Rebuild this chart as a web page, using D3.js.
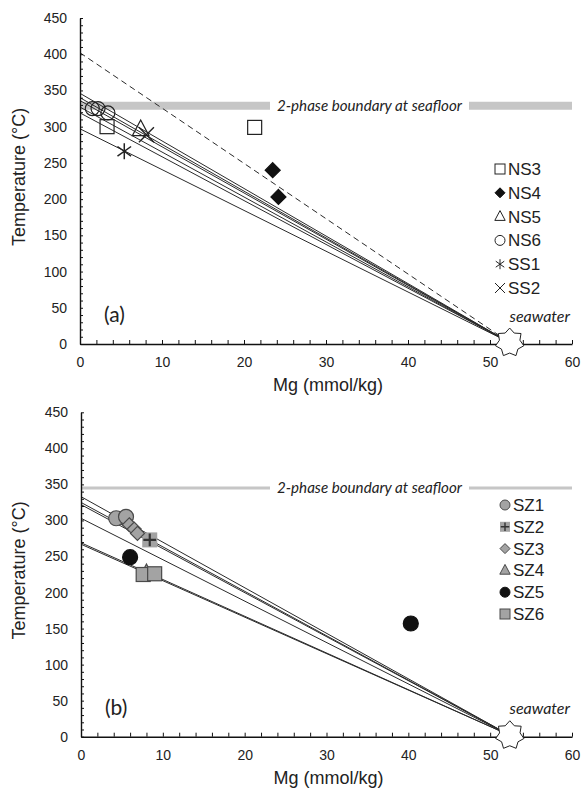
<!DOCTYPE html>
<html><head><meta charset="utf-8">
<script src="https://cdn.jsdelivr.net/npm/d3@7"></script>
<style>
html,body{margin:0;padding:0;background:#fff;}
svg{display:block;}
</style></head><body>
<svg id="chart" width="588" height="793"></svg>
<script>
// ---- shared axis values ----
const xTickLabels = [0, 10, 20, 30, 40, 50, 60];
const yTickLabels = [0, 50, 100, 150, 200, 250, 300, 350, 400, 450];
const seawaterMg = 52.4;
const seawaterT = 2;

// ---- panel (a): vent fluids NS / SS ----
const linesA = [346, 340, 336, 327, 319, 297];   // T at Mg = 0
const dashedA = [402];
const twoPhaseA = 329;
const ns3 = [[3.3, 300], [21.3, 299]];
const ns4 = [[23.5, 240], [24.2, 203]];
const ns5 = [[7.4, 296]];
const ns6 = [[1.5, 325], [2.2, 325], [3.4, 319]];
const ss1 = [[5.4, 266]];
const ss2 = [[8.1, 289]];
const legendA = ["NS3", "NS4", "NS5", "NS6", "SS1", "SS2"];

// ---- panel (b): vent fluids SZ ----
const linesB = [333, 325, 322, 303, 269, 267];
const twoPhaseB = 345;
const sz1 = [[4.3, 303], [5.5, 305]];
const sz2 = [[8.4, 273]];
const sz3 = [[5.9, 294], [6.5, 288], [6.9, 282]];
const sz4 = [[8.0, 228]];
const sz5 = [[6.0, 249], [40.3, 157]];
const sz6 = [[7.6, 225], [9.0, 226]];
const legendB = ["SZ1", "SZ2", "SZ3", "SZ4", "SZ5", "SZ6"];

const svg = d3.select("#chart");
const SANS = "Arial, 'Liberation Sans', sans-serif";
const HUMAN = "Lato, 'Open Sans', sans-serif";

function starPath(r1, r2, n) {
  const pts = [];
  for (let i = 0; i < 2 * n; i++) {
    const a = -Math.PI / 2 + i * Math.PI / n;
    const r = i % 2 ? r2 : r1;
    pts.push([r * Math.cos(a), r * Math.sin(a)]);
  }
  return "M" + pts.map(p => p[0].toFixed(2) + "," + p[1].toFixed(2)).join("L") + "Z";
}

function marker(sel, m, s) {
  const h = s / 2;
  const st = m.stroke, sw = m.sw || 1.2, fill = m.fill;
  switch (m.shape) {
    case "square":
      sel.append("rect").attr("x", -h).attr("y", -h).attr("width", s).attr("height", s)
        .attr("fill", fill).attr("stroke", st).attr("stroke-width", sw);
      break;
    case "squarePlus":
      sel.append("rect").attr("x", -h).attr("y", -h).attr("width", s).attr("height", s)
        .attr("fill", fill).attr("stroke", "none");
      sel.append("path").attr("d", `M${-h * 0.85},0H${h * 0.85}M0,${-h * 0.85}V${h * 0.85}`)
        .attr("stroke", st).attr("stroke-width", Math.max(1.2, s / 7)).attr("fill", "none");
      break;
    case "diamond":
      sel.append("path").attr("d", `M0,${-h}L${h},0L0,${h}L${-h},0Z`)
        .attr("fill", fill).attr("stroke", st).attr("stroke-width", sw);
      break;
    case "triangle":
      sel.append("path").attr("d", `M0,${-s * 0.6}L${s * 0.52},${s * 0.38}L${-s * 0.52},${s * 0.38}Z`)
        .attr("fill", fill).attr("stroke", st).attr("stroke-width", sw);
      break;
    case "circle":
      sel.append("circle").attr("r", h)
        .attr("fill", fill).attr("stroke", st).attr("stroke-width", sw);
      break;
    case "asterisk":
      sel.append("path").attr("d", `M0,${-h}V${h}M${-h * 0.85},${-h * 0.6}L${h * 0.85},${h * 0.6}M${-h * 0.85},${h * 0.6}L${h * 0.85},${-h * 0.6}`)
        .attr("fill", "none").attr("stroke", st).attr("stroke-width", sw);
      break;
    case "cross":
      sel.append("path").attr("d", `M${-h},${-h}L${h},${h}M${-h},${h}L${h},${-h}`)
        .attr("fill", "none").attr("stroke", st).attr("stroke-width", sw);
      break;
  }
}

function drawPanel(p) {
  const g = svg.append("g");
  const x = d3.scaleLinear().domain([0, 60]).range([p.left, p.right]);
  const y = d3.scaleLinear().domain([0, 450]).range([p.bottom, p.top]);

  // two-phase boundary with its label in a gap
  const ty = y(p.twoPhase);
  g.append("line").attr("x1", x(0)).attr("x2", p.labelX0 - 7).attr("y1", ty).attr("y2", ty)
    .attr("stroke", "#c6c6c6").attr("stroke-width", p.bandW);
  g.append("line").attr("x1", p.labelX1 + 7).attr("x2", x(60)).attr("y1", ty).attr("y2", ty)
    .attr("stroke", "#c6c6c6").attr("stroke-width", p.bandW);
  g.append("text").attr("x", p.labelX0).attr("y", ty + 5)
    .attr("font-family", HUMAN).attr("font-style", "italic").attr("font-size", 15)
    .attr("fill", "#222").attr("textLength", p.labelX1 - p.labelX0).attr("lengthAdjust", "spacingAndGlyphs")
    .text("2-phase boundary at seafloor");

  // mixing lines from Mg = 0 to seawater
  g.selectAll(null).data(p.lines).enter().append("line")
    .attr("x1", x(0)).attr("y1", d => y(d))
    .attr("x2", x(seawaterMg)).attr("y2", y(seawaterT))
    .attr("stroke", "#2a2a2a").attr("stroke-width", 1);
  g.selectAll(null).data(p.dashed || []).enter().append("line")
    .attr("x1", x(0)).attr("y1", d => y(d))
    .attr("x2", x(seawaterMg)).attr("y2", y(seawaterT))
    .attr("stroke", "#2a2a2a").attr("stroke-width", 1).attr("stroke-dasharray", "6,4");

  // axes: inward ticks
  const xa = g.append("g").attr("transform", `translate(0,${p.bottom})`)
    .call(d3.axisBottom(x).tickValues(d3.range(0, 61, 2)).tickSize(-4).tickSizeOuter(0).tickFormat(""));
  const ya = g.append("g").attr("transform", `translate(${p.left},0)`)
    .call(d3.axisLeft(y).tickValues(d3.range(0, 451, 10)).tickSize(-3).tickSizeOuter(0).tickFormat(""));
  [xa, ya].forEach(a => {
    a.select(".domain").attr("stroke", "#111").attr("stroke-width", 1.4);
    a.selectAll(".tick line").attr("stroke", "#111").attr("stroke-width", 1);
  });
  const xl = g.append("g").attr("transform", `translate(0,${p.bottom})`)
    .call(d3.axisBottom(x).tickValues(xTickLabels).tickSize(0).tickPadding(13));
  const yl = g.append("g").attr("transform", `translate(${p.left},0)`)
    .call(d3.axisLeft(y).tickValues(yTickLabels).tickSize(0).tickPadding(13));
  [xl, yl].forEach(a => {
    a.attr("font-family", SANS).attr("font-size", 14);
    a.select(".domain").remove();
    a.selectAll("text").attr("font-family", SANS).attr("font-size", 14).attr("fill", "#222");
  });

  // axis titles
  g.append("text").attr("transform", `translate(25,${(p.top + p.bottom) / 2 - 4}) rotate(-90)`)
    .attr("text-anchor", "middle").attr("font-family", SANS).attr("font-size", 18).attr("fill", "#222")
    .text("Temperature (°C)");
  g.append("text").attr("x", (p.left + p.right) / 2 + 2).attr("y", p.bottom + 47)
    .attr("text-anchor", "middle").attr("font-family", SANS).attr("font-size", 18).attr("fill", "#222")
    .text("Mg (mmol/kg)");

  // panel tag
  g.append("text").attr("x", p.left + 24).attr("y", p.bottom - 22)
    .attr("font-family", HUMAN).attr("font-size", 21).attr("fill", "#222").text(p.tag);

  // data points
  p.series.forEach(s => {
    s.pts.forEach(d => {
      const m = g.append("g").attr("transform", `translate(${x(d[0])},${y(d[1])})`);
      marker(m, s, s.size);
    });
  });

  // seawater end-member
  g.append("path").attr("d", starPath(14.5, 10.5, 7))
    .attr("transform", `translate(${x(seawaterMg)},${y(seawaterT)})`)
    .attr("fill", "#fff").attr("stroke", "#222").attr("stroke-width", 1);
  g.append("text").attr("x", p.right - 2).attr("y", y(seawaterT) - 21)
    .attr("text-anchor", "end").attr("font-family", HUMAN).attr("font-style", "italic")
    .attr("font-size", 16).attr("fill", "#222").text("seawater");

  // legend
  p.series.forEach((s, i) => {
    const ly = p.legendY + i * p.legendDy;
    const m = g.append("g").attr("transform", `translate(${p.legendX},${ly})`);
    marker(m, Object.assign({}, s, { sw: 1 }), s.legendSize || 10);
    g.append("text").attr("x", p.legendX + 8).attr("y", ly + 6)
      .attr("font-family", SANS).attr("font-size", 17).attr("fill", "#222").text(s.name);
  });
}

drawPanel({
  left: 80, right: 572, top: 18, bottom: 344,
  twoPhase: twoPhaseA, bandW: 8, labelX0: 277, labelX1: 462,
  lines: linesA, dashed: dashedA, tag: "(a)",
  legendX: 500, legendY: 169, legendDy: 23.8,
  series: [
    { name: legendA[0], pts: ns3, shape: "square", size: 14, fill: "none", stroke: "#222" },
    { name: legendA[1], pts: ns4, shape: "diamond", size: 15, fill: "#111", stroke: "#111" },
    { name: legendA[2], pts: ns5, shape: "triangle", size: 16, fill: "none", stroke: "#222" },
    { name: legendA[3], pts: ns6, shape: "circle", size: 14, fill: "none", stroke: "#222" },
    { name: legendA[4], pts: ss1, shape: "asterisk", size: 16, fill: "none", stroke: "#222", sw: 1.5 },
    { name: legendA[5], pts: ss2, shape: "cross", size: 15, fill: "none", stroke: "#222", sw: 1.4 }
  ]
});

drawPanel({
  left: 81, right: 572, top: 412.3, bottom: 736.7,
  twoPhase: twoPhaseB, bandW: 3, labelX0: 277, labelX1: 462,
  lines: linesB, tag: "(b)",
  legendX: 505, legendY: 505, legendDy: 21.8,
  series: [
    { name: legendB[0], pts: sz1, shape: "circle", size: 15, fill: "#a3a3a3", stroke: "#4a4a4a" },
    { name: legendB[1], pts: sz2, shape: "squarePlus", size: 15, fill: "#a3a3a3", stroke: "#333" },
    { name: legendB[2], pts: sz3, shape: "diamond", size: 14, fill: "#a3a3a3", stroke: "#4a4a4a" },
    { name: legendB[3], pts: sz4, shape: "triangle", size: 14, fill: "#a3a3a3", stroke: "#4a4a4a" },
    { name: legendB[4], pts: sz5, shape: "circle", size: 15, fill: "#111", stroke: "#111" },
    { name: legendB[5], pts: sz6, shape: "square", size: 14, fill: "#a3a3a3", stroke: "#4a4a4a" }
  ]
});
</script></body></html>
